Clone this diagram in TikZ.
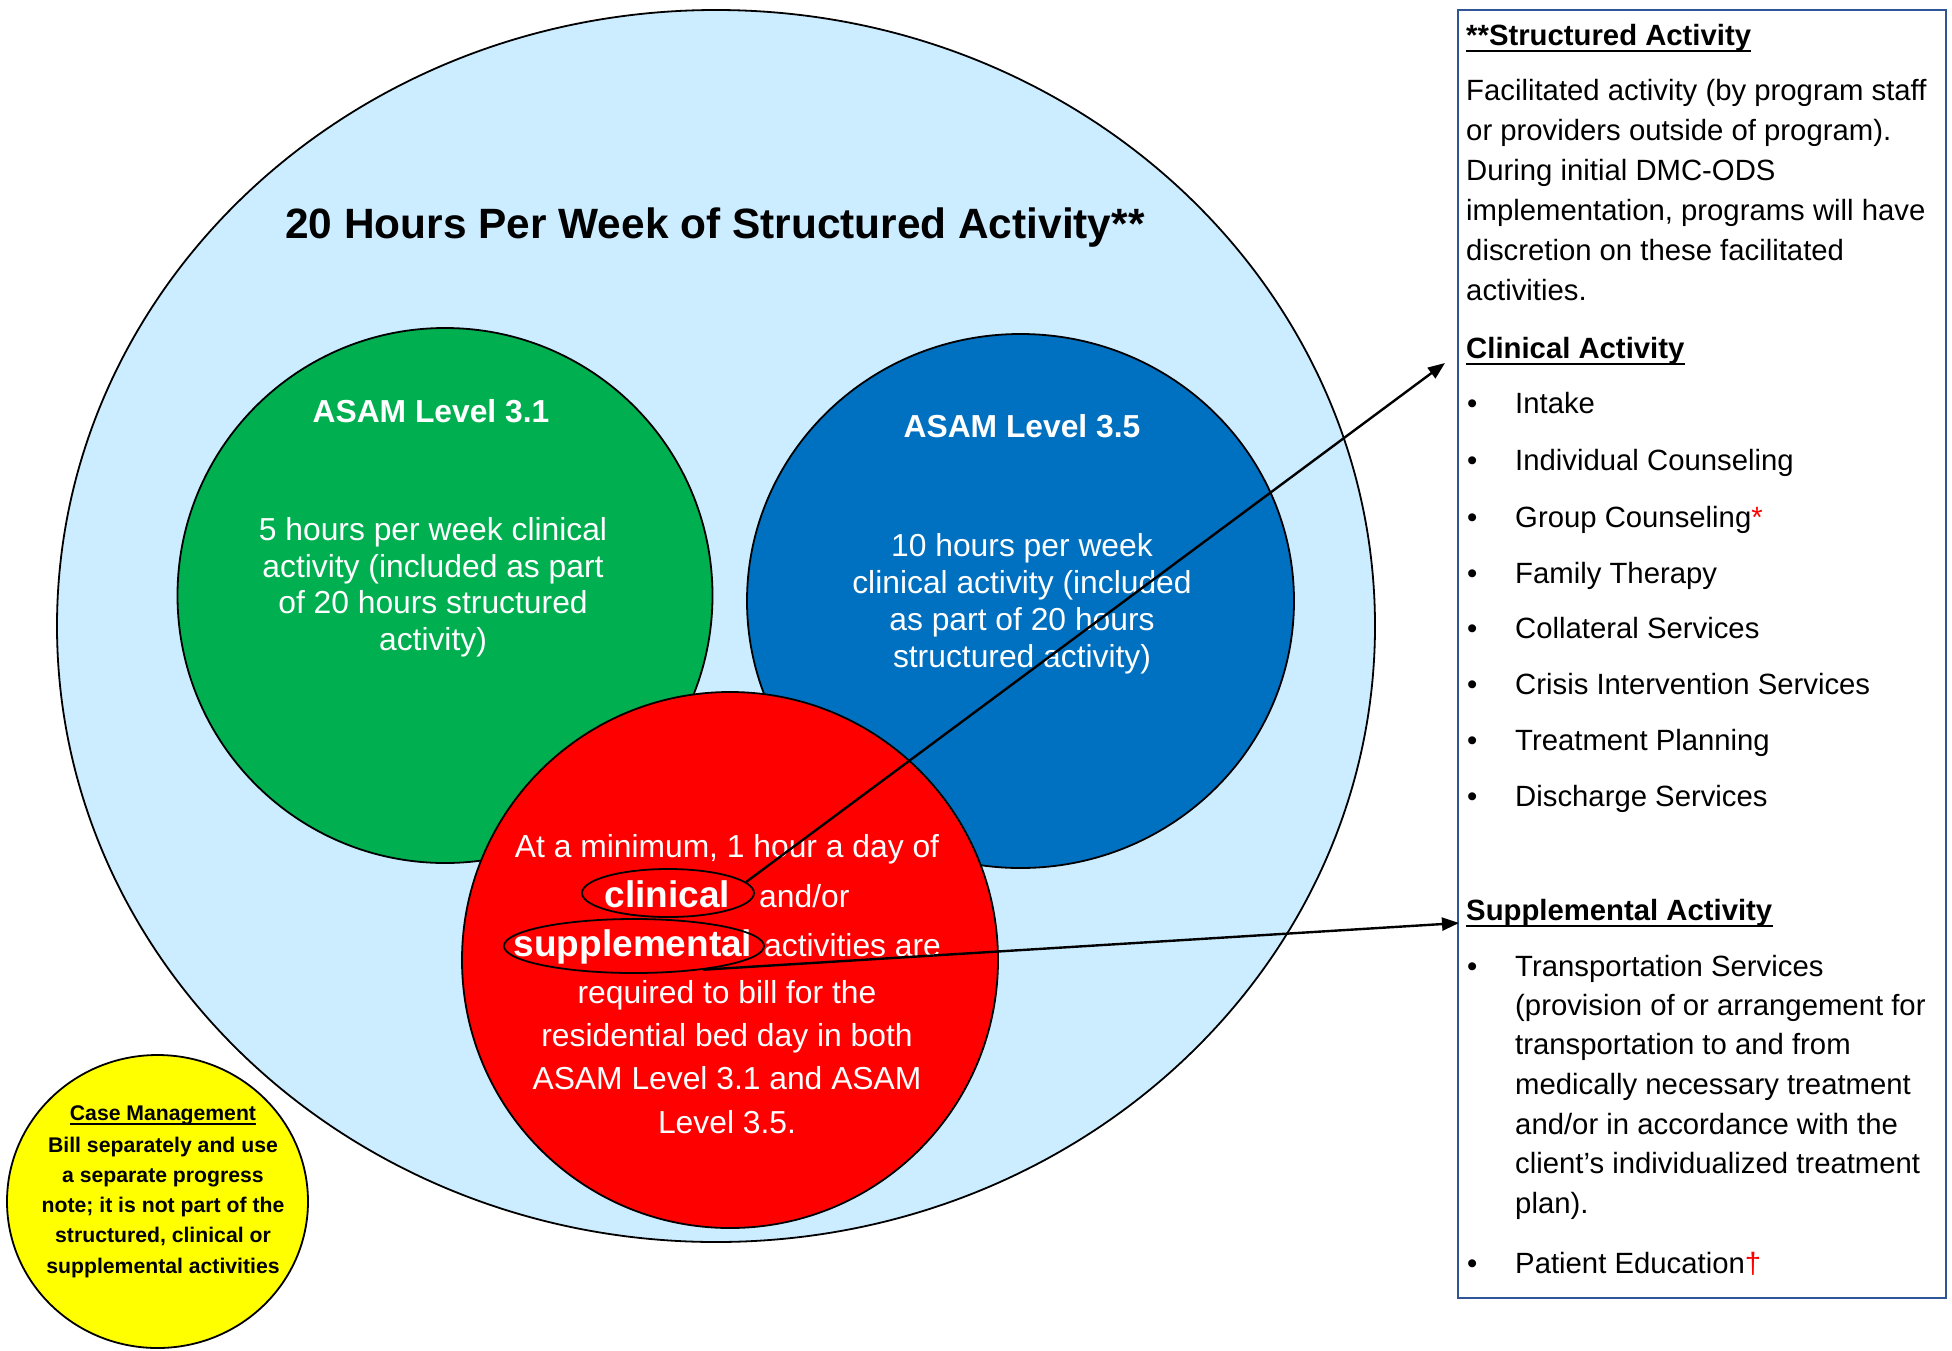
\documentclass[tikz,border=0pt]{standalone}
\usepackage{fontspec}
\setmainfont{Liberation Sans}
\usetikzlibrary{shapes.geometric,arrows.meta}
\definecolor{skyfill}{HTML}{CCECFF}
\definecolor{grnfill}{HTML}{00B050}
\definecolor{blufill}{HTML}{0070C0}
\definecolor{redfill}{HTML}{FF0000}
\definecolor{ylwfill}{HTML}{FFFF00}
\definecolor{boxblue}{HTML}{2F5597}
\newcommand\fsz[2]{\fontsize{#1}{#2}\selectfont}
\begin{document}
\begin{tikzpicture}[x=1pt,y=-1pt,
  circ/.style={ellipse, draw=black, line width=1.8pt, inner sep=0},
  lbl/.style={inner sep=0, anchor=base},
  wtxt/.style={lbl, text=white, font=\fsz{31.8}{38}},
  wbold/.style={lbl, text=white, font=\bfseries\fsz{31.8}{38}},
  wbig/.style={lbl, text=white, font=\bfseries\fsz{37}{44}},
  ytxt/.style={lbl, font=\bfseries\fsz{21.2}{26}},
  rtxt/.style={inner sep=0, anchor=base west, font=\fsz{29.3}{36}},
  rhead/.style={inner sep=0, anchor=base west, font=\bfseries\fsz{29.3}{36}},
  ulin/.style={line width=2.6pt},
  pointer/.style={line width=2.4pt, -{Triangle[length=17pt,width=13pt]}}
]
\useasboundingbox (0,0) rectangle (1952,1350);
\fill[white] (0,0) rectangle (1952,1350);

% big ellipse
\node[circ, fill=skyfill, minimum width=1318, minimum height=1232] (big) at (716,626) {};
\node[lbl, font=\bfseries\fsz{42.4}{48}] (title) at (715,238) {20 Hours Per Week of Structured Activity**};

% green circle
\node[circ, fill=grnfill, minimum width=535, minimum height=535] (green) at (445,595.5) {};
\node[wbold] (gt) at (431,422) {ASAM Level 3.1};
\node[wtxt] (g1) at (433,540) {5 hours per week clinical};
\node[wtxt] (g2) at (433,577) {activity (included as part};
\node[wtxt] (g3) at (433,613) {of 20 hours structured};
\node[wtxt] (g4) at (433,650) {activity)};

% blue circle
\node[circ, fill=blufill, minimum width=547, minimum height=534] (blue) at (1020.5,601) {};
\node[wbold] (bt) at (1022,437) {ASAM Level 3.5};
\node[wtxt] (b1) at (1022,556) {10 hours per week};
\node[wtxt] (b2) at (1022,593) {clinical activity (included};
\node[wtxt] (b3) at (1022,630) {as part of 20 hours};
\node[wtxt] (b4) at (1022,667) {structured activity)};

% red circle
\node[circ, fill=redfill, minimum width=536, minimum height=536] (red) at (730,960) {};
\node[wtxt] (r1) at (727,857) {At a minimum, 1 hour a day of};
\node[wbig] (r2a) at (667.5,907) {clinical};
\node[wtxt, anchor=base west] (r2b) at (759,907) {and/or};
\node[wbig] (r3a) at (633,956) {supplemental};
\node[wtxt, anchor=base west] (r3b) at (764,956) {activities are};
\node[wtxt] (r4) at (727,1003) {required to bill for the};
\node[wtxt] (r5) at (727,1046) {residential bed day in both};
\node[wtxt] (r6) at (727,1089) {ASAM Level 3.1 and ASAM};
\node[wtxt] (r7) at (727,1133) {Level 3.5.};
\node[ellipse, draw=black, line width=1.8pt, minimum width=172, minimum height=48, inner sep=0] (clin) at (668,893) {};
\node[ellipse, draw=black, line width=1.8pt, minimum width=260, minimum height=54, inner sep=0] (supp) at (634,946) {};

% yellow circle
\node[circ, fill=ylwfill, minimum width=301, minimum height=293] (yellow) at (157.5,1201.5) {};
\node[ytxt] (y0) at (163,1120) {Case Management};
\draw[line width=1.6pt] ([yshift=-4pt]y0.base west) -- ([yshift=-4pt]y0.base east);
\node[ytxt] (y1) at (163,1152) {Bill separately and use};
\node[ytxt] (y2) at (163,1182) {a separate progress};
\node[ytxt] (y3) at (163,1212) {note; it is not part of the};
\node[ytxt] (y4) at (163,1242) {structured, clinical or};
\node[ytxt] (y5) at (163,1273) {supplemental activities};

% right box
\node[draw=boxblue, line width=2pt, fill=white, minimum width=488, minimum height=1288, inner sep=0, anchor=north west] (box) at (1457,9) {};
\node[rhead] (h1) at (1466,45) {**Structured Activity};
\draw[ulin] ([yshift=-6pt]h1.base west) -- ([yshift=-6pt]h1.base east);
\node[rtxt] (p1) at (1466,100) {Facilitated activity (by program staff};
\node[rtxt] (p2) at (1466,140) {or providers outside of program).};
\node[rtxt] (p3) at (1466,180) {During initial DMC-ODS};
\node[rtxt] (p4) at (1466,220) {implementation, programs will have};
\node[rtxt] (p5) at (1466,260) {discretion on these facilitated};
\node[rtxt] (p6) at (1466,300) {activities.};

\node[rhead] (h2) at (1466,358) {Clinical Activity};
\draw[ulin] ([yshift=-6pt]h2.base west) -- ([yshift=-6pt]h2.base east);
\node[rtxt] (cb1) at (1467,413) {•}; \node[rtxt] (c1) at (1515,413) {Intake};
\node[rtxt] (cb2) at (1467,470) {•}; \node[rtxt] (c2) at (1515,470) {Individual Counseling};
\node[rtxt] (cb3) at (1467,527) {•}; \node[rtxt] (c3) at (1515,527) {Group Counseling\textcolor{redfill}{*}};
\node[rtxt] (cb4) at (1467,583) {•}; \node[rtxt] (c4) at (1515,583) {Family Therapy};
\node[rtxt] (cb5) at (1467,638) {•}; \node[rtxt] (c5) at (1515,638) {Collateral Services};
\node[rtxt] (cb6) at (1467,694) {•}; \node[rtxt] (c6) at (1515,694) {Crisis Intervention Services};
\node[rtxt] (cb7) at (1467,750) {•}; \node[rtxt] (c7) at (1515,750) {Treatment Planning};
\node[rtxt] (cb8) at (1467,806) {•}; \node[rtxt] (c8) at (1515,806) {Discharge Services};

\node[rhead] (h3) at (1466,920) {Supplemental Activity};
\draw[ulin] ([yshift=-6pt]h3.base west) -- ([yshift=-6pt]h3.base east);
\node[rtxt] (sb1) at (1467,976) {•};
\node[rtxt] (s1) at (1515,976) {Transportation Services};
\node[rtxt] (s2) at (1515,1015) {(provision of or arrangement for};
\node[rtxt] (s3) at (1515,1054) {transportation to and from};
\node[rtxt] (s4) at (1515,1094) {medically necessary treatment};
\node[rtxt] (s5) at (1515,1134) {and/or in accordance with the};
\node[rtxt] (s6) at (1515,1173) {client’s individualized treatment};
\node[rtxt] (s7) at (1515,1213) {plan).};
\node[rtxt] (sb2) at (1467,1273) {•};
\node[rtxt] (s8) at (1515,1273) {Patient Education\textcolor{redfill}{†}};

% connectors
\coordinate (tipA) at (1445,363);
\coordinate (tipB) at (1459,923);
\draw[pointer] (clin.8) -- (tipA);
\draw[pointer] (supp.-19) -- (tipB);
\end{tikzpicture}
\end{document}
